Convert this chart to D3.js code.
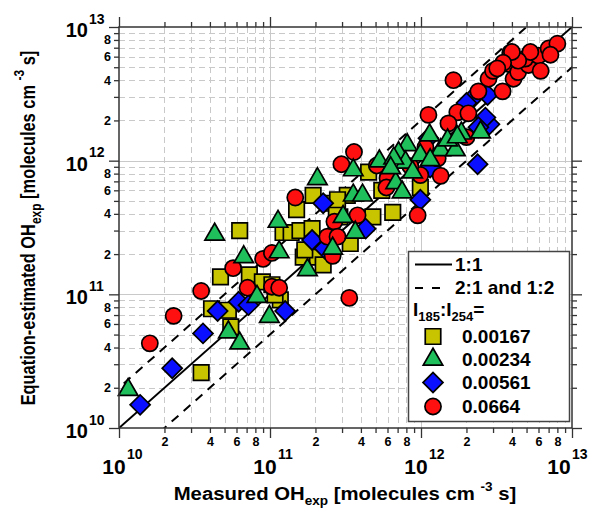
<!DOCTYPE html>
<html>
<head>
<meta charset="utf-8">
<script src="https://cdn.jsdelivr.net/npm/d3@7"></script>
<style>
  body { margin: 0; background: #fff; }
  svg { display: block; }
  text { font-family: Arial, "Liberation Sans", sans-serif; font-weight: bold; fill: #000; }
</style>
</head>
<body>
<svg id="chart" width="590" height="514"></svg>
<script>
// Measured vs equation-estimated OH exposure, one array per I185:I254 ratio.
// Each entry: [measured OHexp, estimated OHexp] in molecules cm^-3 s.
const ratio00167 = [
  [3.5e10, 2.6e10], [6.3e10, 3.0e11], [4.7e10, 1.35e11], [7.3e10, 1.4e11], [8.9e10, 1.24e11],
  [4.1e10, 7.8e10], [5.3e10, 7.6e10], [5.5e10, 5.7e10], [1.17e11, 9.1e10], [1.08e11, 9.9e10],
  [1.22e11, 2.9e11], [1.38e11, 2.9e11], [1.58e11, 3.0e11], [1.5e11, 4.3e11], [1.9e11, 3.1e11],
  [1.66e11, 1.9e11], [2.06e11, 1.9e11], [2.25e11, 1.66e11], [2.6e11, 4.8e11], [2.9e11, 3.8e11],
  [1.93e11, 5.5e11], [2.75e11, 4.4e11], [3.25e11, 5.5e11], [4.5e11, 8.2e11], [3.4e11, 2.4e11],
  [1.7e11, 2.15e11], [4.8e11, 3.8e11], [1.03e11, 1.18e11], [6.5e11, 4.1e11], [5.5e11, 6.0e11],
  [9.9e11, 6.3e11], [2.8e11, 5.1e11]
];
const ratio00234 = [
  [1.15e10, 1.93e10], [4.3e10, 2.8e11], [6.7e10, 1.9e11], [8.2e10, 9.6e10], [5.3e10, 5.2e10],
  [6.3e10, 4.3e10], [9.9e10, 6.8e10], [1.15e11, 2.07e11], [1.13e11, 3.5e11], [1.77e11, 1.52e11],
  [2.6e11, 2.2e11], [3.05e11, 3.8e11], [2.06e11, 7.3e11], [3.56e11, 8.5e11], [3.56e11, 5.5e11],
  [4.1e11, 5.5e11], [3.67e11, 2.9e11], [1.14e12, 1.55e12], [1.85e12, 1.6e12], [8.1e11, 1.31e12],
  [7.1e11, 1.14e12], [9.9e11, 1.1e12], [1.35e12, 1.2e12], [1.69e12, 1.2e12], [5.3e11, 9.9e11],
  [7.9e11, 9.7e11], [6.6e11, 1.04e12], [1.15e12, 1.01e12], [8.8e11, 8.2e11], [6.8e11, 6.8e11],
  [1.5e12, 1.42e12], [2.48e12, 1.63e12], [7.5e11, 5.8e11], [6.3e11, 8.8e11], [1.74e12, 1.5e12]
];
const ratio00561 = [
  [1.38e10, 1.49e10], [2.25e10, 2.8e10], [3.6e10, 5.1e10], [4.5e10, 7.5e10], [6.2e10, 8.8e10],
  [1.26e11, 7.5e10], [1.9e11, 2.55e11], [2.25e11, 4.8e11], [7.2e10, 8.3e10], [4.3e11, 3.1e11],
  [2.3e11, 2.2e11], [9.9e11, 5.1e11], [2.37e12, 9.4e11], [2.84e12, 1.87e12], [2.13e12, 2.83e12],
  [2.76e12, 3.1e12], [2.67e12, 2.1e12], [1.15e12, 8.9e11], [1.12e12, 1.47e12], [2.4e12, 1.78e12],
  [2.0e12, 2.7e12]
];
const ratio0664 = [
  [1.6e10, 4.3e10], [2.3e10, 6.9e10], [3.5e10, 1.06e11], [5.7e10, 1.57e11], [7.1e10, 1.12e11],
  [9.0e10, 1.84e11], [1.03e11, 2.04e11], [1.03e11, 1.14e11], [1.15e11, 1.12e11], [2.6e11, 2.8e11],
  [2.67e11, 3.5e11], [2.6e11, 1.94e11], [1.47e11, 5.3e11], [3.6e11, 1.16e12], [2.97e11, 9.4e11],
  [3.8e11, 3.9e11], [2.4e11, 2.7e11], [5.1e11, 9.2e11], [1.64e12, 4.0e12], [1.12e12, 2.2e12],
  [1.74e12, 2.3e12], [1.52e12, 1.9e12], [1.35e12, 7.7e11], [6.0e11, 7.4e11], [9.9e11, 7.8e11],
  [1.07e12, 1.26e12], [1.29e12, 1.04e12], [3.35e11, 9.4e10], [9.5e11, 3.9e11], [2.06e12, 2.26e12],
  [2.4e12, 3.3e12], [3.47e12, 3.3e12], [2.8e12, 4.1e12], [3.0e12, 4.7e12], [3.9e12, 6.4e12],
  [3.8e12, 5.3e12], [4.1e12, 4.1e12], [4.4e12, 4.6e12], [5.15e12, 5.2e12], [4.9e12, 5.8e12],
  [6.0e12, 6.1e12], [6.2e12, 4.7e12], [7.0e12, 6.9e12], [8.0e12, 7.5e12], [5.3e12, 6.5e12],
  [7.2e12, 6.2e12], [4.4e12, 5.6e12], [4.0e12, 6.5e12], [3.5e12, 5.4e12], [3.2e12, 4.9e12],
  [2.8e11, 2.7e11], [8.5e11, 9.1e11], [5.9e11, 6.3e11], [2.0e12, 1.5e12]
];

const ratioLabels = ["0.00167", "0.00234", "0.00561", "0.0664"];
const ratioColors = ["#c8c400", "#1fbf5c", "#0a10ff", "#ff1010"];
const ratioShapes = ["square", "triangle", "diamond", "circle"];
const decades = [1e10, 1e11, 1e12, 1e13];
const decadeExponents = ["10", "11", "12", "13"];
const minorLabelDigits = [2, 4, 6, 8];
const refLines = [
  { label: "1:1", factor: 1, dash: null },
  { label: "2:1 and 1:2", factor: 2, dash: "9,7" },
  { label: "", factor: 0.5, dash: "9,7" }
];

const plot = { left: 119, right: 572, top: 27, bottom: 428 };
const svg = d3.select("#chart");
const x = d3.scaleLog().domain([1e10, 1e13]).range([plot.left, plot.right]);
const y = d3.scaleLog().domain([1e10, 1e13]).range([plot.bottom, plot.top]);

const minorValues = [];
decades.slice(0, -1).forEach(d => { for (let m = 2; m <= 9; m++) minorValues.push(m * d); });
const crisp = v => Math.round(v) + 0.5;

// ---- grid ----
const grid = svg.append("g").attr("stroke", "#c9c9c9").attr("stroke-width", 1);
grid.selectAll(".gv").data(minorValues).join("line")
  .attr("x1", d => crisp(x(d))).attr("x2", d => crisp(x(d)))
  .attr("y1", plot.top).attr("y2", plot.bottom).attr("stroke-dasharray", "6,4");
grid.selectAll(".gh").data(minorValues).join("line")
  .attr("y1", d => crisp(y(d))).attr("y2", d => crisp(y(d)))
  .attr("x1", plot.left).attr("x2", plot.right).attr("stroke-dasharray", "6,4");
grid.selectAll(".dv").data(decades.slice(1, -1)).join("line")
  .attr("x1", d => crisp(x(d))).attr("x2", d => crisp(x(d)))
  .attr("y1", plot.top).attr("y2", plot.bottom);
grid.selectAll(".dh").data(decades.slice(1, -1)).join("line")
  .attr("y1", d => crisp(y(d))).attr("y2", d => crisp(y(d)))
  .attr("x1", plot.left).attr("x2", plot.right);

// ---- reference lines (1:1, 2:1, 1:2), clipped to the plot ----
svg.append("clipPath").attr("id", "plotClip").append("rect")
  .attr("x", plot.left).attr("y", plot.top)
  .attr("width", plot.right - plot.left).attr("height", plot.bottom - plot.top);
const lineGen = d3.line().x(d => x(d[0])).y(d => y(d[1]));
svg.append("g").attr("clip-path", "url(#plotClip)")
  .selectAll("path").data(refLines).join("path")
  .attr("d", r => lineGen([[1e9, 1e9 * r.factor], [1e14, 1e14 * r.factor]]))
  .attr("fill", "none").attr("stroke", "#000").attr("stroke-width", 2)
  .attr("stroke-dasharray", r => r.dash);

// ---- markers ----
function markerPath(shape) {
  if (shape === "square") return d3.symbol(d3.symbolSquare, 240)();
  if (shape === "triangle") return d3.symbol(d3.symbolTriangle, 165)();
  if (shape === "diamond") return d3.symbol(d3.symbolSquare, 200)();
  return d3.symbol(d3.symbolCircle, 205)();
}
function markerTransform(shape, px, py) {
  return `translate(${px},${py})` + (shape === "diamond" ? " rotate(45)" : "");
}
const seriesData = [ratio00167, ratio00234, ratio00561, ratio0664];
const drawOrder = [0, 2, 3, 1];
const pts = svg.append("g");
drawOrder.forEach(i => {
  pts.append("g").selectAll("path").data(seriesData[i]).join("path")
    .attr("d", markerPath(ratioShapes[i]))
    .attr("transform", d => markerTransform(ratioShapes[i], x(d[0]), y(d[1])))
    .attr("fill", ratioColors[i]).attr("stroke", "#000").attr("stroke-width", 1.7);
});

// ---- axes ----
function minorFormat(d) {
  const m = Math.round(d / Math.pow(10, Math.floor(Math.log10(d) + 1e-9)));
  return minorLabelDigits.includes(m) ? String(m) : "";
}
function styleAxis(g) {
  g.select(".domain").remove();
  g.selectAll(".tick line").attr("stroke", "#333").attr("stroke-width", 1.3);
  g.selectAll(".tick text").style("font-size", "12.5px").style("font-weight", "bold")
    .attr("fill", "#000").style("font-family", "Arial, 'Liberation Sans', sans-serif");
}
const axes = svg.append("g");
axes.append("g").attr("transform", `translate(0,${plot.bottom})`)
  .call(d3.axisBottom(x).tickValues(minorValues).tickSize(5).tickSizeOuter(0).tickPadding(4).tickFormat(minorFormat)).call(styleAxis);
axes.append("g").attr("transform", `translate(0,${plot.bottom})`)
  .call(d3.axisBottom(x).tickValues(decades).tickSize(10).tickSizeOuter(0).tickFormat("")).call(styleAxis);
axes.append("g").attr("transform", `translate(0,${plot.top})`)
  .call(d3.axisTop(x).tickValues(minorValues).tickSize(5).tickSizeOuter(0).tickFormat("")).call(styleAxis);
axes.append("g").attr("transform", `translate(0,${plot.top})`)
  .call(d3.axisTop(x).tickValues(decades).tickSize(10).tickSizeOuter(0).tickFormat("")).call(styleAxis);
axes.append("g").attr("transform", `translate(${plot.left},0)`)
  .call(d3.axisLeft(y).tickValues(minorValues).tickSize(5).tickSizeOuter(0).tickPadding(3).tickFormat(minorFormat)).call(styleAxis);
axes.append("g").attr("transform", `translate(${plot.left},0)`)
  .call(d3.axisLeft(y).tickValues(decades).tickSize(10).tickSizeOuter(0).tickFormat("")).call(styleAxis);
axes.append("g").attr("transform", `translate(${plot.right},0)`)
  .call(d3.axisRight(y).tickValues(minorValues).tickSize(5).tickSizeOuter(0).tickFormat("")).call(styleAxis);
axes.append("g").attr("transform", `translate(${plot.right},0)`)
  .call(d3.axisRight(y).tickValues(decades).tickSize(10).tickSizeOuter(0).tickFormat("")).call(styleAxis);

svg.append("rect").attr("x", plot.left).attr("y", plot.top)
  .attr("width", plot.right - plot.left).attr("height", plot.bottom - plot.top)
  .attr("fill", "none").attr("stroke", "#333").attr("stroke-width", 1.5);

// decade labels 10^n (the last x label is nudged left so it stays inside the page)
decades.forEach((d, i) => {
  const lx = Math.min(x(d), 564);
  const gx = svg.append("g").attr("transform", `translate(${lx},474)`);
  gx.append("text").attr("x", -5).attr("text-anchor", "middle").style("font-size", "21px").text("10");
  gx.append("text").attr("x", 8).attr("y", -15).style("font-size", "14px").text(decadeExponents[i]);
  const gy = svg.append("g").attr("transform", `translate(88,${y(d) + 10})`);
  gy.append("text").attr("text-anchor", "end").style("font-size", "20px").text("10");
  gy.append("text").attr("x", 1).attr("y", -13.5).style("font-size", "14px").text(decadeExponents[i]);
});

// ---- axis titles ----
function titleText(sel, prefix) {
  sel.append("tspan").text(prefix + "OH");
  sel.append("tspan").attr("dy", 5).style("font-size", "12px").text("exp");
  sel.append("tspan").attr("dy", -5).text(" [molecules cm ");
  sel.append("tspan").attr("dy", -9).style("font-size", "12px").text("-3");
  sel.append("tspan").attr("dy", 9).text("  s]");
}
const xt = svg.append("g").attr("transform", "translate(345,500) scale(1.13,1)")
  .append("text").attr("text-anchor", "middle").style("font-size", "18px");
titleText(xt, "Measured ");
const yt = svg.append("g").attr("transform", "translate(35,228) scale(1.27,1) rotate(-90)")
  .append("text").attr("text-anchor", "middle").style("font-size", "16.4px");
titleText(yt, "Equation-estimated ");

// ---- legend ----
const lg = svg.append("g");
lg.append("rect").attr("x", 408.5).attr("y", 251.5).attr("width", 161).attr("height", 170)
  .attr("fill", "#fff").attr("stroke", "#444").attr("stroke-width", 1.5);
lg.append("line").attr("x1", 415).attr("x2", 452).attr("y1", 264.5).attr("y2", 264.5)
  .attr("stroke", "#000").attr("stroke-width", 2);
lg.append("line").attr("x1", 415).attr("x2", 440).attr("y1", 288).attr("y2", 288)
  .attr("stroke", "#000").attr("stroke-width", 2).attr("stroke-dasharray", "8,9");
lg.append("text").attr("x", 455).attr("y", 271).style("font-size", "19px").text(refLines[0].label);
lg.append("text").attr("x", 455).attr("y", 294).style("font-size", "19px").text(refLines[1].label);
const hdr = lg.append("text").attr("x", 413).attr("y", 316).style("font-size", "19px");
hdr.append("tspan").text("I");
hdr.append("tspan").attr("dy", 5).style("font-size", "13px").text("185");
hdr.append("tspan").attr("dy", -5).text(":I");
hdr.append("tspan").attr("dy", 5).style("font-size", "13px").text("254");
hdr.append("tspan").attr("dy", -5).text("=");
const entryBase = [343, 366, 389, 413];
ratioLabels.forEach((lab, i) => {
  lg.append("path").attr("d", markerPath(ratioShapes[i]))
    .attr("transform", markerTransform(ratioShapes[i], 433, entryBase[i] - 6.5))
    .attr("fill", ratioColors[i]).attr("stroke", "#000").attr("stroke-width", 1.7);
  lg.append("text").attr("x", 462).attr("y", entryBase[i]).style("font-size", "19px").text(lab);
});
</script>
</body>
</html>
